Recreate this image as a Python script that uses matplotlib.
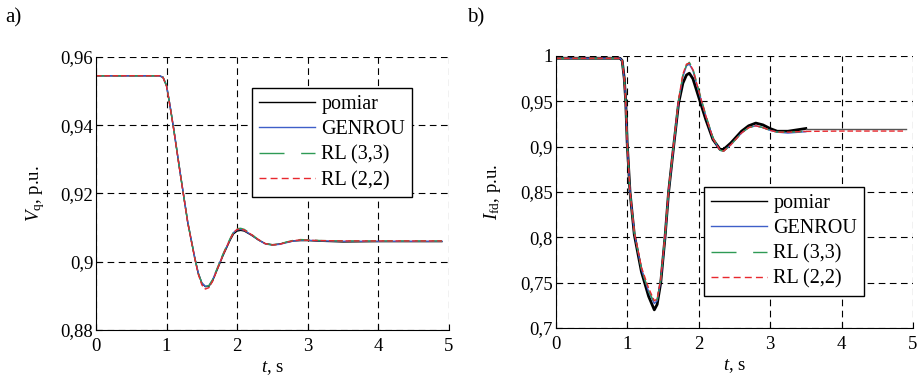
import matplotlib
matplotlib.use("Agg")
import matplotlib.pyplot as plt
from matplotlib.ticker import FuncFormatter

plt.rcParams["font.family"] = "Liberation Serif"
plt.rcParams["mathtext.fontset"] = "custom"
plt.rcParams["mathtext.rm"] = "Liberation Serif"
plt.rcParams["mathtext.it"] = "Liberation Serif:italic"

# --- a) V_q ---
t_vq = [0, 0.9, 0.95, 1.0, 1.05, 1.1, 1.2, 1.3, 1.4, 1.45, 1.5, 1.55, 1.6, 1.65, 1.7,
        1.8, 1.9, 1.95, 2.0, 2.05, 2.1, 2.2, 2.3, 2.4, 2.5, 2.6, 2.7, 2.8, 2.9, 3.0,
        3.2, 3.5, 4.0, 4.9]
vq_pomiar = [0.9545, 0.9545, 0.9540, 0.9515, 0.9455, 0.9390, 0.9250, 0.9115, 0.9010, 0.8965,
             0.8937, 0.8927, 0.8928, 0.8943, 0.8968, 0.9018, 0.9063, 0.9082, 0.9090, 0.9092,
             0.9090, 0.9078, 0.9064, 0.9053, 0.9050, 0.9052, 0.9057, 0.9061, 0.9062, 0.9062,
             0.9060, 0.9058, 0.9059, 0.9059]
vq_genrou = [0.9545, 0.9545, 0.9541, 0.9517, 0.9457, 0.9392, 0.9252, 0.9117, 0.9012, 0.8967,
             0.8938, 0.8928, 0.8930, 0.8946, 0.8971, 0.9021, 0.9066, 0.9086, 0.9094, 0.9095,
             0.9092, 0.9079, 0.9064, 0.9052, 0.9049, 0.9051, 0.9056, 0.9061, 0.9063, 0.9063,
             0.9061, 0.9060, 0.9060, 0.9060]
vq_rl33 = [0.9545, 0.9545, 0.9541, 0.9516, 0.9456, 0.9391, 0.9251, 0.9116, 0.9011, 0.8966,
           0.8937, 0.8927, 0.8930, 0.8947, 0.8972, 0.9023, 0.9068, 0.9088, 0.9097, 0.9098,
           0.9095, 0.9081, 0.9065, 0.9053, 0.9049, 0.9052, 0.9058, 0.9063, 0.9065, 0.9064,
           0.9062, 0.9061, 0.9061, 0.9061]
vq_rl22 = [0.9545, 0.9545, 0.9540, 0.9514, 0.9454, 0.9389, 0.9249, 0.9114, 0.9009, 0.8963,
           0.8932, 0.8920, 0.8924, 0.8942, 0.8968, 0.9020, 0.9066, 0.9086, 0.9095, 0.9096,
           0.9093, 0.9080, 0.9065, 0.9053, 0.9049, 0.9051, 0.9057, 0.9062, 0.9064, 0.9063,
           0.9062, 0.9061, 0.9061, 0.9061]

# --- b) I_fd ---
t_ifd = [0, 0.9, 0.93, 0.96, 0.98, 1.0, 1.04, 1.1, 1.2, 1.3, 1.38, 1.42, 1.47, 1.53, 1.58,
         1.65, 1.72, 1.78, 1.83, 1.87, 1.92, 2.0, 2.1, 2.2, 2.3, 2.35, 2.45, 2.6, 2.7,
         2.8, 2.9, 3.0, 3.1, 3.25, 3.5]
ifd_pomiar = [0.9975, 0.9975, 0.995, 0.975, 0.950, 0.905, 0.850, 0.803, 0.762, 0.735, 0.720,
              0.726, 0.750, 0.800, 0.850, 0.900, 0.948, 0.970, 0.979, 0.981, 0.975, 0.955,
              0.930, 0.908, 0.897, 0.897, 0.904, 0.917, 0.923, 0.926, 0.924, 0.920, 0.917,
              0.917, 0.920]
ifd_genrou = [0.9975, 0.9975, 0.995, 0.975, 0.950, 0.905, 0.850, 0.805, 0.765, 0.740, 0.727,
              0.730, 0.752, 0.800, 0.850, 0.900, 0.950, 0.977, 0.989, 0.991, 0.984, 0.961,
              0.934, 0.909, 0.896, 0.895, 0.902, 0.915, 0.921, 0.923, 0.921, 0.918, 0.916,
              0.915, 0.9165]
ifd_rl33 = [0.9975, 0.9975, 0.995, 0.975, 0.950, 0.905, 0.850, 0.805, 0.765, 0.741, 0.728,
            0.731, 0.753, 0.801, 0.851, 0.901, 0.951, 0.979, 0.990, 0.993, 0.986, 0.963,
            0.935, 0.910, 0.896, 0.895, 0.902, 0.915, 0.921, 0.923, 0.921, 0.918, 0.916,
            0.916, 0.9168]
ifd_rl22 = [0.9975, 0.9975, 0.995, 0.975, 0.950, 0.905, 0.850, 0.806, 0.767, 0.744, 0.730,
            0.732, 0.754, 0.802, 0.852, 0.902, 0.952, 0.980, 0.991, 0.992, 0.985, 0.962,
            0.934, 0.909, 0.896, 0.895, 0.902, 0.915, 0.921, 0.923, 0.921, 0.918, 0.916,
            0.916, 0.9168]
t_tail = [3.5, 4.0, 4.9]
ifd_pomiar_tail = [0.9192, 0.9192, 0.9192]
ifd_model_tail = [0.9168, 0.9172, 0.9172]

labels = ["pomiar", "GENROU", "RL (3,3)", "RL (2,2)"]
c_pom, c_gen, c_rl33, c_rl22 = "black", "#3f5fc8", "#2e9a55", "#e8282e"

comma = FuncFormatter(lambda v, p: ("%g" % v).replace(".", ","))

fig = plt.figure(figsize=(9.2, 3.79), dpi=100)
ax1 = fig.add_axes([0.1043, 0.1293, 0.3837, 0.7203])
ax2 = fig.add_axes([0.6040, 0.1346, 0.3884, 0.7177])


def style(ax, ylim, yticks):
    ax.set_xlim(0, 5)
    ax.set_ylim(*ylim)
    ax.set_xticks([0, 1, 2, 3, 4, 5])
    ax.set_yticks(yticks)
    ax.xaxis.set_major_formatter(comma)
    ax.yaxis.set_major_formatter(comma)
    ax.grid(True, color="black", linestyle=(0, (6, 4)), linewidth=0.8)
    ax.spines["top"].set_visible(False)
    ax.spines["right"].set_visible(False)
    ax.tick_params(direction="in", length=4, labelsize=13.5)
    ax.tick_params(axis="x", pad=6)
    ax.tick_params(axis="y", pad=2)
    ax.set_xlabel("$t$, s", fontsize=13.5, labelpad=3)


# a)
ax1.plot(t_vq, vq_pomiar, color=c_pom, lw=1.0)
ax1.plot(t_vq, vq_genrou, color=c_gen, lw=1.0)
ax1.plot(t_vq, vq_rl33, color=c_rl33, lw=1.0, dashes=(8, 4))
ax1.plot(t_vq, vq_rl22, color=c_rl22, lw=1.0, dashes=(4, 2))
style(ax1, (0.88, 0.96), [0.88, 0.9, 0.92, 0.94, 0.96])
ax1.set_ylabel("$V_{\\mathrm{q}}$, p.u.", fontsize=13.5, labelpad=10)

# b)
ax2.plot(t_ifd, ifd_pomiar, color=c_pom, lw=2.0)
ax2.plot(t_tail, ifd_pomiar_tail, color="#555555", lw=1.0)
ax2.plot(t_ifd, ifd_genrou, color=c_gen, lw=1.0)
ax2.plot(t_ifd, ifd_rl33, color=c_rl33, lw=1.0, dashes=(8, 4))
ax2.plot(t_ifd, ifd_rl22, color=c_rl22, lw=1.0, dashes=(4, 2))
ax2.plot(t_tail, ifd_model_tail, color=c_rl22, lw=1.0, dashes=(4, 2))
style(ax2, (0.7, 1.0), [0.7, 0.75, 0.8, 0.85, 0.9, 0.95, 1.0])
ax2.set_ylabel("$I_{\\mathrm{fd}}$, p.u.", fontsize=13.5, labelpad=12)

for ax, anchor in [(ax1, (0.442, 0.886)), (ax2, (0.415, 0.518))]:
    hs = [
        plt.Line2D([], [], color=c_pom, lw=1.0),
        plt.Line2D([], [], color=c_gen, lw=1.0),
        plt.Line2D([], [], color=c_rl33, lw=1.0, dashes=(18, 12)),
        plt.Line2D([], [], color=c_rl22, lw=1.0, dashes=(5, 3)),
    ]
    leg = ax.legend(hs, labels, loc="upper left", bbox_to_anchor=anchor, fontsize=14.5,
                    handlelength=2.8, handletextpad=0.3, labelspacing=0.3,
                    borderpad=0.35, borderaxespad=0, fancybox=False, framealpha=1,
                    edgecolor="black")
    leg.get_frame().set_linewidth(1.0)

fig.text(0.006, 0.952, "a)", fontsize=15, va="center")
fig.text(0.508, 0.952, "b)", fontsize=15, va="center")

fig.savefig("out.png", dpi=100)
